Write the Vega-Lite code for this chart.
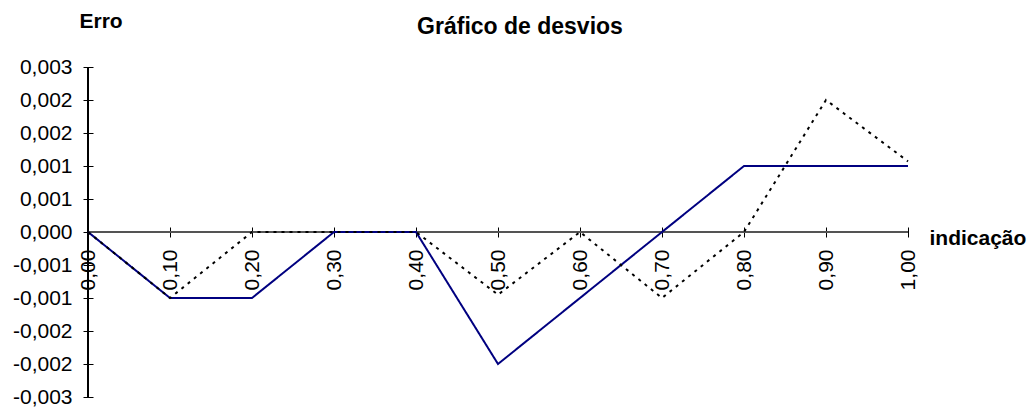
{
  "$schema": "https://vega.github.io/schema/vega-lite/v6.json",
  "width": 820,
  "height": 330,
  "autosize": "none",
  "padding": {"left": 88, "top": 67, "right": 122, "bottom": 10},
  "background": "white",
  "config": {
    "view": {"stroke": null},
    "font": "Liberation Sans",
    "axis": {"labelOverlap": false},
    "locale": {"number": {"decimal": ",", "thousands": ".", "grouping": [3], "currency": ["", ""], "minus": "-"}}
  },
  "title": {
    "text": "Gráfico de desvios",
    "fontSize": 23,
    "fontWeight": "bold",
    "font": "Liberation Sans",
    "color": "black",
    "anchor": "middle",
    "dx": 22,
    "dy": 33
  },
  "data": {
    "values": [
      {"indicacao": 0.0, "erro": 0.0, "serie": "A"},
      {"indicacao": 0.1, "erro": -0.001, "serie": "A"},
      {"indicacao": 0.2, "erro": -0.001, "serie": "A"},
      {"indicacao": 0.3, "erro": 0.0, "serie": "A"},
      {"indicacao": 0.4, "erro": 0.0, "serie": "A"},
      {"indicacao": 0.5, "erro": -0.002, "serie": "A"},
      {"indicacao": 0.6, "erro": -0.001, "serie": "A"},
      {"indicacao": 0.7, "erro": 0.0, "serie": "A"},
      {"indicacao": 0.8, "erro": 0.001, "serie": "A"},
      {"indicacao": 0.9, "erro": 0.001, "serie": "A"},
      {"indicacao": 1.0, "erro": 0.001, "serie": "A"},
      {"indicacao": 0.0, "erro": 0.0, "serie": "B"},
      {"indicacao": 0.1, "erro": -0.001, "serie": "B"},
      {"indicacao": 0.2, "erro": 0.0, "serie": "B"},
      {"indicacao": 0.3, "erro": 0.0, "serie": "B"},
      {"indicacao": 0.4, "erro": 0.0, "serie": "B"},
      {"indicacao": 0.5, "erro": -0.00095, "serie": "B"},
      {"indicacao": 0.6, "erro": 0.0, "serie": "B"},
      {"indicacao": 0.7, "erro": -0.001, "serie": "B"},
      {"indicacao": 0.8, "erro": 0.0, "serie": "B"},
      {"indicacao": 0.9, "erro": 0.002, "serie": "B"},
      {"indicacao": 1.0, "erro": 0.00107, "serie": "B"}
    ]
  },
  "layer": [
    {
      "mark": {"type": "rule", "color": "#555555", "strokeWidth": 1.5},
      "encoding": {
        "x": {"datum": 0, "type": "quantitative"},
        "x2": {"datum": 1},
        "y": {"datum": 0, "type": "quantitative"}
      }
    },
    {
      "mark": {"type": "rule", "color": "black", "strokeWidth": 1},
      "encoding": {
        "x": {"datum": 0, "type": "quantitative"},
        "y": {"datum": -0.0025, "type": "quantitative"},
        "y2": {"datum": 0.0025}
      }
    },
    {
      "mark": {"type": "line", "strokeWidth": 2, "clip": false},
      "encoding": {
        "x": {
          "field": "indicacao",
          "type": "quantitative",
          "scale": {"domain": [0, 1], "nice": false, "zero": false},
          "axis": {
            "values": [0, 0.1, 0.2, 0.3, 0.4, 0.5, 0.6, 0.7, 0.8, 0.9, 1.0],
            "tickCount": 30,
            "labelExpr": "replace(format(datum.value, '.2f'), '.', ',')",
            "labelAngle": 270,
            "labelFontSize": 21,
            "labelColor": "black",
            "labelPadding": 12,
            "labelOverlap": false,
            "offset": -170,
            "tickSize": 10,
            "tickColor": "black",
            "domain": false,
            "grid": false,
            "title": "indicação",
            "titleFontSize": 21,
            "titleFontWeight": "bold",
            "titleColor": "black",
            "titleAngle": 0,
            "titleAlign": "left",
            "titleBaseline": "alphabetic",
            "titleAnchor": null,
            "titleX": 841,
            "titleY": 17
          }
        },
        "y": {
          "field": "erro",
          "type": "quantitative",
          "scale": {"domain": [-0.0025, 0.0025], "nice": false, "zero": false},
          "axis": {
            "values": [-0.0025, -0.002, -0.0015, -0.001, -0.0005, 0, 0.0005, 0.001, 0.0015, 0.002, 0.0025],
            "tickCount": 30,
            "labelExpr": "replace(replace(format(datum.value + (datum.value >= 0 ? 1e-9 : -1e-9), '.3f'), '.', ','), '−', '-')",
            "labelFontSize": 21,
            "labelColor": "black",
            "labelPadding": 11,
            "labelOverlap": false,
            "offset": -5,
            "tickSize": 10,
            "tickColor": "black",
            "domain": false,
            "grid": false,
            "title": "Erro",
            "titleFontSize": 21,
            "titleFontWeight": "bold",
            "titleColor": "black",
            "titleAngle": 0,
            "titleAlign": "left",
            "titleBaseline": "alphabetic",
            "titleAnchor": null,
            "titleX": -14,
            "titleY": -40
          }
        },
        "color": {
          "field": "serie",
          "type": "nominal",
          "scale": {"domain": ["A", "B"], "range": ["#000080", "#000000"]},
          "legend": null
        },
        "strokeDash": {
          "field": "serie",
          "type": "nominal",
          "scale": {"domain": ["A", "B"], "range": [[1, 0], [3, 5]]},
          "legend": null
        }
      }
    }
  ]
}
